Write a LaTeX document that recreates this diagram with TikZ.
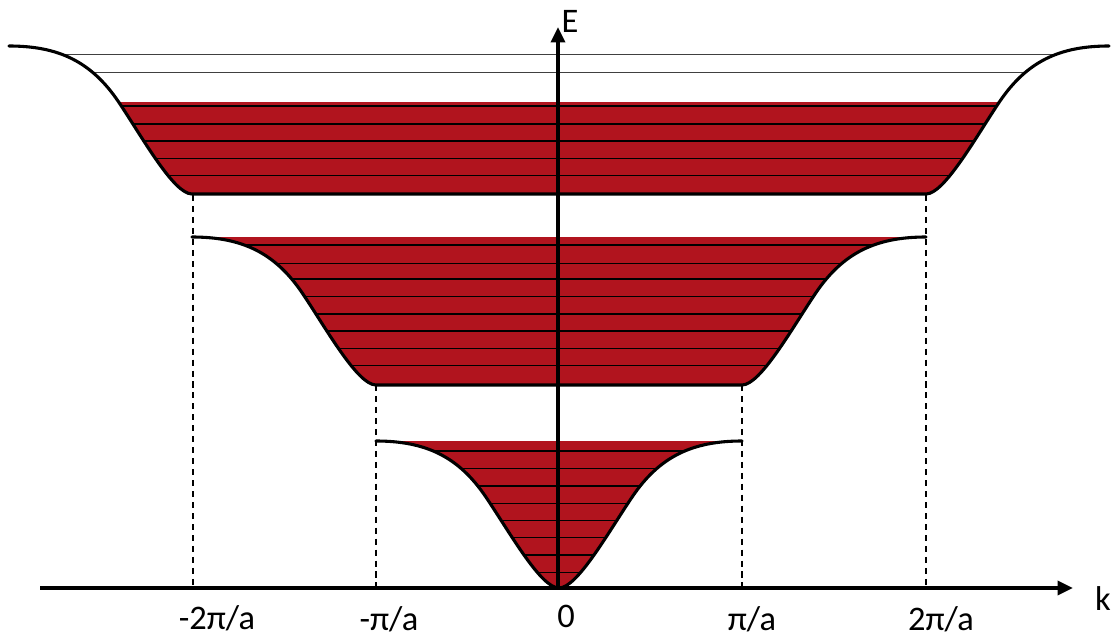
\documentclass[tikz,border=0pt]{standalone}
\usepackage{fontspec}
\setmainfont{Carlito}
\usetikzlibrary{arrows.meta}
\definecolor{bandred}{RGB}{177,20,30}
\definecolor{thingray}{RGB}{64,64,64}
\begin{document}
\begin{tikzpicture}[x=0.025cm,y=-0.025cm,
  level/.style={line width=0.9pt, black},
  toplevel/.style={line width=0.9pt, thingray},
  curve/.style={line width=2.2pt, line join=round, line cap=round},
  axis/.style={line width=2.4pt, -{Triangle[length=11pt,width=10pt]}},
  guide/.style={dash pattern=on 4.3pt off 3.5pt, line width=1pt},
  lbl/.style={font=\fontsize{24.5}{28}\selectfont, inner sep=0pt}]
\useasboundingbox (0,0) rectangle (1112,639);

% coordinates
\coordinate (o) at (558,588);
\coordinate (xl) at (40,588);
\coordinate (xr) at (1073,588);
\coordinate (yt) at (558,27);
\coordinate (g1t) at (193,195);
\coordinate (g1b) at (193,588);
\coordinate (g2t) at (376,385);
\coordinate (g2b) at (376,588);
\coordinate (g3t) at (742,385);
\coordinate (g3b) at (742,588);
\coordinate (g4t) at (926,195);
\coordinate (g4b) at (926,588);

% dashed guides
\draw[guide] (g1t) -- (g1b);
\draw[guide] (g2t) -- (g2b);
\draw[guide] (g3t) -- (g3b);
\draw[guide] (g4t) -- (g4b);

% band 1
\begin{scope}
\clip (376,441) .. controls (425.4,441) and (458.4,456.3) .. (485.8,496.9)
  .. controls (509.6,532.1) and (540.7,588) .. (559,588)
  .. controls (577.3,588) and (608.4,532.1) .. (632.2,496.9)
  .. controls (659.6,456.3) and (692.6,441) .. (742,441) -- cycle;
\fill[bandred] (370,441) rectangle (750,595);
\foreach \y in {451,468.3,486,503.3,520.7,537.7,555,572.7}
  \draw[level] (370,\y) -- (750,\y);
\end{scope}
\draw[curve] (376,441) .. controls (425.4,441) and (458.4,456.3) .. (485.8,496.9)
  .. controls (509.6,532.1) and (540.7,588) .. (559,588)
  .. controls (577.3,588) and (608.4,532.1) .. (632.2,496.9)
  .. controls (659.6,456.3) and (692.6,441) .. (742,441);

% band 2
\begin{scope}
\clip (192,237) .. controls (241.7,237) and (274.8,252.4) .. (302.4,293.2)
  .. controls (326.3,328.8) and (357.6,385) .. (376,385)
  -- (742,385) .. controls (760.4,385) and (791.7,328.8) .. (815.6,293.2)
  .. controls (843.2,252.4) and (876.3,237) .. (926,237) -- cycle;
\fill[bandred] (185,236) rectangle (935,390);
\foreach \y in {245,263.3,279,296.7,314,331,348.3,365.7}
  \draw[level] (185,\y) -- (935,\y);
\end{scope}
\draw[curve] (192,237) .. controls (241.7,237) and (274.8,252.4) .. (302.4,293.2)
  .. controls (326.3,328.8) and (357.6,385) .. (376,385)
  -- (742,385) .. controls (760.4,385) and (791.7,328.8) .. (815.6,293.2)
  .. controls (843.2,252.4) and (876.3,237) .. (926,237);

% band 3
\begin{scope}
\clip (9,46) .. controls (58.4,46) and (91.35,61.4) .. (118.8,102.2)
  .. controls (142.6,137.8) and (173.7,194) .. (192,194)
  -- (926,194) .. controls (944.3,194) and (975.4,137.8) .. (999.2,102.2)
  .. controls (1026.65,61.4) and (1059.6,46) .. (1109,46) -- cycle;
\fill[bandred] (0,102) rectangle (1112,200);
\foreach \y in {54.5,72.7}
  \draw[toplevel] (0,\y) -- (1112,\y);
\foreach \y in {106,124,141,158.7,175.7}
  \draw[level] (0,\y) -- (1112,\y);
\end{scope}
\draw[curve] (9,46) .. controls (58.4,46) and (91.35,61.4) .. (118.8,102.2)
  .. controls (142.6,137.8) and (173.7,194) .. (192,194)
  -- (926,194) .. controls (944.3,194) and (975.4,137.8) .. (999.2,102.2)
  .. controls (1026.65,61.4) and (1059.6,46) .. (1109,46);

% axes
\draw[axis] (xl) -- (xr);
\draw[axis] (o) -- (yt);

% labels
\node[lbl, anchor=base] (lE) at (570,32) {E};
\node[lbl, anchor=base] (lk) at (1103,610) {k};
\node[lbl, anchor=base] (lm2) at (217,629) {-2π/a};
\node[lbl, anchor=base] (lm1) at (389,630) {-π/a};
\node[lbl, anchor=base] (l0) at (566,627) {0};
\node[lbl, anchor=base] (lp1) at (752,630) {π/a};
\node[lbl, anchor=base] (lp2) at (941,630) {2π/a};
\end{tikzpicture}
\end{document}
